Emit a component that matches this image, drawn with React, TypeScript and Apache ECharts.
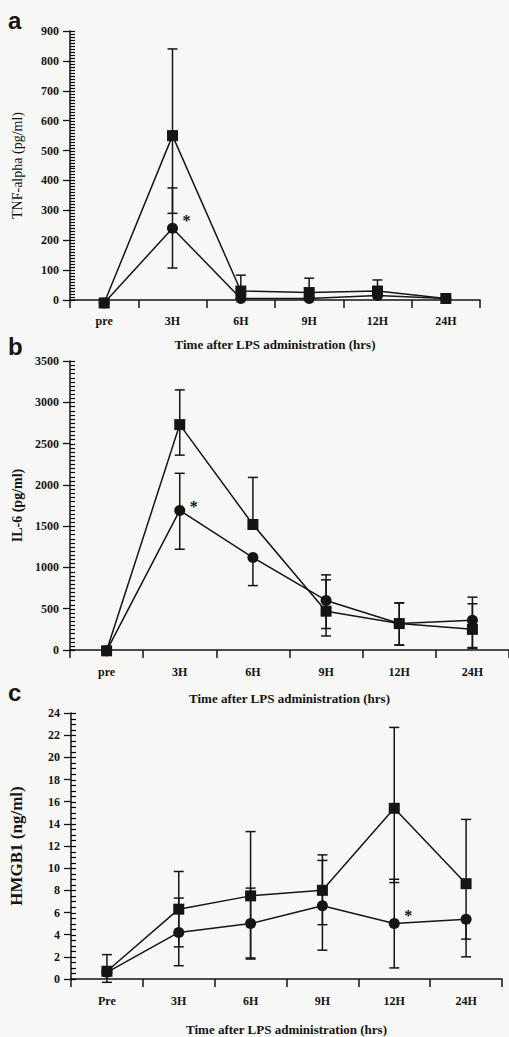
import React, { useEffect, useRef } from "react";
import * as echarts from "echarts";

const catsAB = ["pre", "3H", "6H", "9H", "12H", "24H"];
const catsC = ["Pre", "3H", "6H", "9H", "12H", "24H"];
const xTitle = "Time after LPS administration (hrs)";

// Panel a: TNF-alpha (pg/ml)
const tnfSquare = [-10, 550, 30, 25, 30, 5];
const tnfSquareHigh = [-10, 840, 83, 73, 67, 5];
const tnfSquareLow = [-10, 290, 30, 25, 30, 5];
const tnfCircle = [-10, 240, 5, 5, 15, 5];
const tnfCircleHigh = [-10, 375, 5, 5, 15, 5];
const tnfCircleLow = [-10, 107, 5, 5, 15, 5];
const tnfStar = [[1, 277]];

// Panel b: IL-6 (pg/ml)
const il6Square = [-10, 2730, 1520, 470, 320, 250];
const il6SquareHigh = [-10, 3150, 2090, 850, 570, 560];
const il6SquareLow = [-10, 2360, 1520, 170, 60, 20];
const il6Circle = [-10, 1690, 1120, 600, 320, 360];
const il6CircleHigh = [-10, 2140, 1120, 910, 570, 640];
const il6CircleLow = [-10, 1220, 780, 260, 60, 30];
const il6Star = [[1, 1780]];

// Panel c: HMGB1 (ng/ml)
const hmgSquare = [0.7, 6.3, 7.5, 8.0, 15.4, 8.6];
const hmgSquareHigh = [2.2, 9.7, 13.3, 11.2, 22.7, 14.4];
const hmgSquareLow = [-0.3, 2.9, 1.8, 4.9, 8.7, 2.0];
const hmgCircle = [0.6, 4.2, 5.0, 6.6, 5.0, 5.4];
const hmgCircleHigh = [0.6, 7.3, 8.2, 10.7, 9.0, 5.4];
const hmgCircleLow = [0.6, 1.2, 1.9, 2.6, 1.0, 3.6];
const hmgStar = [[4, 6.0]];

const INK = "#151515";
const SERIF = "'Liberation Serif', 'DejaVu Serif', serif";

const errRender = (params: any, api: any) => {
  const x = api.value(0);
  const lo = api.value(1);
  const hi = api.value(2);
  const pLo = api.coord([x, lo]);
  const pHi = api.coord([x, hi]);
  const hw = 5;
  const style = { stroke: INK, lineWidth: 1.5, fill: null };
  return {
    type: "group",
    children: [
      { type: "line", shape: { x1: pLo[0], y1: pLo[1], x2: pHi[0], y2: pHi[1] }, style },
      { type: "line", shape: { x1: pHi[0] - hw, y1: pHi[1], x2: pHi[0] + hw, y2: pHi[1] }, style },
      { type: "line", shape: { x1: pLo[0] - hw, y1: pLo[1], x2: pLo[0] + hw, y2: pLo[1] }, style },
    ],
  };
};

const starRender = (params: any, api: any) => {
  const p = api.coord([api.value(0), api.value(1)]);
  return {
    type: "text",
    x: p[0] + 14,
    y: p[1] + 3,
    style: {
      text: "*",
      fill: INK,
      font: `bold 16px ${SERIF}`,
      align: "center",
      verticalAlign: "middle",
    },
  };
};

// Minor ticks drawn inside the y axis, placed with the axis scale (api.coord)
const makeMinorTickRender = (yMax: number, step: number) => (params: any, api: any) => {
  const x0 = api.coord([0, 0])[0] - api.size([1, 0])[0] / 2;
  const children: any[] = [];
  const n = Math.round(yMax / step);
  for (let k = 0; k <= n; k++) {
    const p = api.coord([0, k * step]);
    const y = Math.round(p[1]) + 0.5;
    children.push({
      type: "line",
      shape: { x1: x0, y1: y, x2: x0 + 5, y2: y },
      style: { stroke: "#000", lineWidth: 1.2 },
    });
  }
  return { type: "group", children };
};

const labelStyle = {
  fontFamily: SERIF,
  fontWeight: "bold" as const,
  fontSize: 12,
  color: INK,
};

function buildPanel(
  idx: number,
  cats: string[],
  yName: string,
  yNameSize: number,
  yNameWeight: string,
  yMax: number,
  yInterval: number,
  yMinor: number,
  xNameGap: number,
  xLabelMargin: number,
  sq: number[],
  sqHi: number[],
  sqLo: number[],
  ci: number[],
  ciHi: number[],
  ciLo: number[],
  star: number[][]
) {
  const xAxis = {
    type: "category",
    gridIndex: idx,
    data: cats,
    boundaryGap: true,
    axisLine: { show: true, lineStyle: { color: INK, width: 1.5 } },
    axisTick: { show: true, length: 8, interval: 0, lineStyle: { color: INK, width: 1.5 } },
    axisLabel: { ...labelStyle, margin: xLabelMargin, interval: 0 },
    splitLine: { show: false },
    name: xTitle,
    nameLocation: "middle",
    nameGap: xNameGap,
    nameTextStyle: { fontFamily: SERIF, fontWeight: "bold", fontSize: 13, color: INK },
  };
  const yMain = {
    type: "value",
    gridIndex: idx,
    position: "left",
    min: 0,
    max: yMax,
    interval: yInterval,
    axisLine: { show: true, lineStyle: { color: INK, width: 1.5 } },
    axisTick: { show: true, length: 7, lineStyle: { color: INK, width: 1.3 } },
    axisLabel: { ...labelStyle, margin: 11, formatter: (v: number) => String(v) },
    splitLine: { show: false },
    name: yName,
    nameLocation: "middle",
    nameGap: 46,
    nameTextStyle: { fontFamily: SERIF, fontWeight: yNameWeight, fontSize: yNameSize, color: INK },
  };
  const series = [
    {
      type: "custom",
      xAxisIndex: idx,
      yAxisIndex: idx,
      renderItem: makeMinorTickRender(yMax, yMinor),
      data: [[0, 0]],
      clip: false,
      z: 5,
      silent: true,
    },
    {
      type: "custom",
      xAxisIndex: idx,
      yAxisIndex: idx,
      renderItem: errRender,
      data: cats.map((_, i) => [i, sqLo[i], sqHi[i]]),
      z: 1,
      silent: true,
    },
    {
      type: "custom",
      xAxisIndex: idx,
      yAxisIndex: idx,
      renderItem: errRender,
      data: cats.map((_, i) => [i, ciLo[i], ciHi[i]]),
      z: 1,
      silent: true,
    },
    {
      type: "line",
      xAxisIndex: idx,
      yAxisIndex: idx,
      data: sq,
      symbol: "rect",
      symbolSize: 11,
      clip: false,
      itemStyle: { color: INK },
      lineStyle: { color: INK, width: 1.5 },
      z: 3,
    },
    {
      type: "line",
      xAxisIndex: idx,
      yAxisIndex: idx,
      data: ci,
      symbol: "circle",
      symbolSize: 11,
      clip: false,
      itemStyle: { color: INK },
      lineStyle: { color: INK, width: 1.5 },
      z: 3,
    },
    {
      type: "custom",
      xAxisIndex: idx,
      yAxisIndex: idx,
      renderItem: starRender,
      data: star,
      z: 4,
      silent: true,
    },
  ];
  return { xAxis, yAxis: yMain, series };
}

export default function App() {
  const ref = useRef<HTMLDivElement>(null);
  useEffect(() => {
    if (!ref.current) return;
    const chart = echarts.init(ref.current, undefined, { renderer: "svg" });
    const pa = buildPanel(0, catsAB, "TNF-alpha (pg/ml)", 14, "normal", 900, 100, 10, 38, 15,
      tnfSquare, tnfSquareHigh, tnfSquareLow, tnfCircle, tnfCircleHigh, tnfCircleLow, tnfStar);
    const pb = buildPanel(1, catsAB, "IL-6 (pg/ml)", 14, "bold", 3500, 500, 50, 42, 16,
      il6Square, il6SquareHigh, il6SquareLow, il6Circle, il6CircleHigh, il6CircleLow, il6Star);
    const pc = buildPanel(2, catsC, "HMGB1 (ng/ml)", 17, "bold", 24, 2, 0.5, 44, 16,
      hmgSquare, hmgSquareHigh, hmgSquareLow, hmgCircle, hmgCircleHigh, hmgCircleLow, hmgStar);
    chart.setOption({
      animation: false,
      backgroundColor: "#f7f7f5",
      grid: [
        { left: 70, top: 31, width: 410, height: 269 },
        { left: 70, top: 361, width: 439, height: 289 },
        { left: 70, top: 713, width: 432, height: 271 },
      ],
      xAxis: [pa.xAxis, pb.xAxis, pc.xAxis],
      yAxis: [pa.yAxis, pb.yAxis, pc.yAxis],
      series: [...pa.series, ...pb.series, ...pc.series],
      graphic: [
        { type: "text", left: 8, top: 8, style: { text: "a", font: "bold 24px 'Liberation Sans', Arial, sans-serif", fill: INK } },
        { type: "text", left: 8, top: 334, style: { text: "b", font: "bold 24px 'Liberation Sans', Arial, sans-serif", fill: INK } },
        { type: "text", left: 8, top: 680, style: { text: "c", font: "bold 24px 'Liberation Sans', Arial, sans-serif", fill: INK } },
      ],
    });
    return () => chart.dispose();
  }, []);
  return (
    <div
      ref={ref}
      style={{ position: "absolute", left: 0, top: 0, width: 509, height: 1037 }}
    />
  );
}
